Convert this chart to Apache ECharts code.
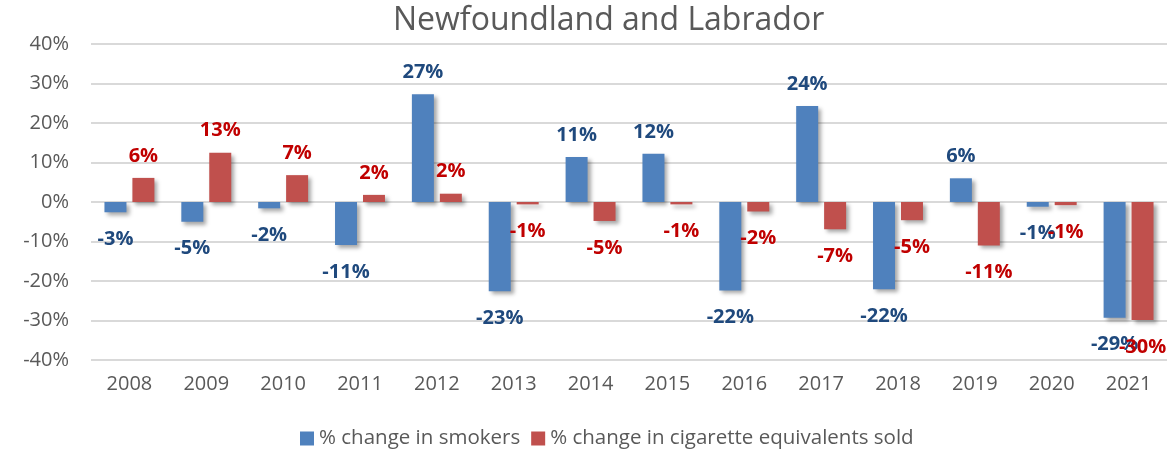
<!DOCTYPE html>
<html lang="en">
<head>
<meta charset="UTF-8">
<title>Newfoundland and Labrador</title>
<script src="https://cdn.jsdelivr.net/npm/echarts@6/dist/echarts.min.js"></script>
<style>
  html, body { margin: 0; padding: 0; background: #fff; }
  #main { width: 1167px; height: 451px; }
</style>
</head>
<body>
<div id="main"></div>
<script>
// data, in percent
var years = ['2008', '2009', '2010', '2011', '2012', '2013', '2014', '2015', '2016', '2017', '2018', '2019', '2020', '2021'];
var smokers = [-2.6, -5.0, -1.6, -10.9, 27.3, -22.6, 11.4, 12.2, -22.4, 24.3, -22.1, 6.0, -1.2, -29.3];
var cigSold = [6.1, 12.5, 6.8, 1.8, 2.1, -0.6, -4.8, -0.6, -2.4, -6.9, -4.6, -11.0, -0.8, -29.9];
var seriesNames = ['% change in smokers', '% change in cigarette equivalents sold'];

var font = '"Open Sans", Lato, sans-serif';

// positive -> label above bar, negative -> label below
function withLabels(arr) {
  return arr.map(function (v) {
    return {
      value: v,
      label: { position: v >= 0 ? 'top' : 'bottom', distance: v >= 0 ? 12 : 17 }
    };
  });
}

function pct(p) { return Math.round(p.value) + '%'; }

var shadow = {
  shadowBlur: 4,
  shadowOffsetX: 3,
  shadowOffsetY: 3,
  shadowColor: 'rgba(0,0,0,0.35)'
};

var option = {
  backgroundColor: '#ffffff',
  animation: false,
  title: {
    text: 'Newfoundland and Labrador',
    left: 388,
    top: 0,
    textStyle: { fontFamily: font, fontSize: 32, fontWeight: 'normal', color: '#595959' }
  },
  legend: {
    data: seriesNames,
    top: 423,
    left: 295,
    icon: 'rect',
    itemWidth: 14,
    itemHeight: 14,
    itemGap: 11,
    textStyle: { fontFamily: font, fontSize: 20.5, color: '#595959' }
  },
  grid: { left: 91, top: 44, width: 1080, height: 316 },
  xAxis: {
    type: 'category',
    data: years,
    axisLine: { show: false, onZero: false },
    axisTick: { show: false },
    axisLabel: { margin: 14, fontFamily: font, fontSize: 20, color: '#595959' }
  },
  yAxis: {
    type: 'value',
    min: -40,
    max: 40,
    interval: 10,
    axisLine: { show: false },
    axisTick: { show: false },
    splitLine: { lineStyle: { color: '#D9D9D9', width: 2 } },
    axisLabel: {
      margin: 22,
      fontFamily: font,
      fontSize: 20,
      color: '#595959',
      formatter: function (v) { return v + '%'; }
    }
  },
  series: [
    {
      name: seriesNames[0],
      type: 'bar',
      barWidth: 22,
      barGap: '27%',
      data: withLabels(smokers),
      itemStyle: Object.assign({ color: '#4F81BD' }, shadow),
      label: {
        show: true,
        formatter: pct,
        fontFamily: font,
        fontSize: 20,
        fontWeight: 'bold',
        color: '#1F497D'
      }
    },
    {
      name: seriesNames[1],
      type: 'bar',
      barWidth: 22,
      barGap: '27%',
      data: withLabels(cigSold),
      itemStyle: Object.assign({ color: '#C0504D' }, shadow),
      label: {
        show: true,
        formatter: pct,
        fontFamily: font,
        fontSize: 20,
        fontWeight: 'bold',
        color: '#C00000'
      }
    }
  ]
};

var myChart = echarts.init(document.getElementById('main'));
myChart.setOption(option);
</script>
</body>
</html>
